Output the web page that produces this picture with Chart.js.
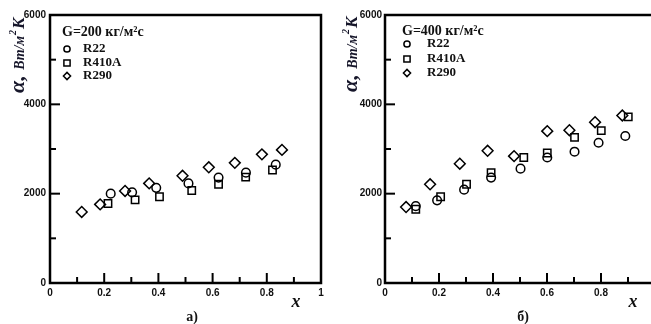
<!DOCTYPE html>
<html>
<head>
<meta charset="utf-8">
<script src="https://cdn.jsdelivr.net/npm/chart.js@4.4.0/dist/chart.umd.min.js"></script>
<style>
  html, body { margin: 0; padding: 0; background: #fff; overflow: hidden; width: 651px; height: 324px; }
  .panel { position: absolute; top: 0; height: 324px; }
  #left { left: 0; width: 330px; }
  #right { left: 330px; width: 335px; }
</style>
</head>
<body>
<div class="panel" id="left"><canvas id="chartA"></canvas></div>
<div class="panel" id="right"><canvas id="chartB"></canvas></div>
<script>
// series names
var seriesNames = ['R22', 'R410A', 'R290'];
var pointStyles = ['circle', 'rect', 'rectRot'];

// panel a) G=200
var a_r22_x   = [0.224, 0.303, 0.392, 0.511, 0.622, 0.723, 0.833];
var a_r22_y   = [2000, 2030, 2130, 2230, 2360, 2470, 2650];
var a_r410_x  = [0.214, 0.314, 0.404, 0.523, 0.622, 0.722, 0.821];
var a_r410_y  = [1780, 1860, 1930, 2070, 2210, 2370, 2530];
var a_r290_x  = [0.117, 0.185, 0.277, 0.366, 0.489, 0.586, 0.682, 0.782, 0.856];
var a_r290_y  = [1590, 1760, 2060, 2230, 2400, 2590, 2690, 2880, 2980];

// panel б) G=400
var b_r22_x   = [0.114, 0.193, 0.293, 0.393, 0.502, 0.601, 0.702, 0.791, 0.890];
var b_r22_y   = [1720, 1850, 2090, 2360, 2560, 2810, 2940, 3140, 3290];
var b_r410_x  = [0.114, 0.206, 0.302, 0.393, 0.514, 0.601, 0.702, 0.801, 0.901];
var b_r410_y  = [1650, 1930, 2210, 2470, 2810, 2910, 3260, 3410, 3720];
var b_r290_x  = [0.078, 0.167, 0.277, 0.380, 0.478, 0.601, 0.683, 0.778, 0.879];
var b_r290_y  = [1700, 2210, 2670, 2960, 2840, 3400, 3420, 3600, 3750];

// axis tick marks (inside the frame)
var xMarks = [0.1, 0.2, 0.3, 0.4, 0.5, 0.6, 0.7, 0.8, 0.9];
var yMarks = [1000, 2000, 3000, 4000, 5000];

function pts(xs, ys) {
    return xs.map(function(x, i) { return { x: x, y: ys[i] }; });
}

function marker(ctx, style, x, y, r) {
    ctx.beginPath();
    if (style === 'circle') {
        ctx.arc(x, y, r, 0, Math.PI * 2);
    } else if (style === 'rect') {
        ctx.rect(x - r, y - r, 2 * r, 2 * r);
    } else {
        var d = r * 1.15;
        ctx.moveTo(x - d, y); ctx.lineTo(x, y - d); ctx.lineTo(x + d, y); ctx.lineTo(x, y + d);
        ctx.closePath();
    }
    ctx.stroke();
}

//frame, ticks, legend and labels
var panelDecor = {
    id: 'panelDecor',
    afterDraw: function(chart, args, o) {
        var ctx = chart.ctx, area = chart.chartArea;
        var xs = chart.scales.x, ys = chart.scales.y;
        ctx.save();
        ctx.strokeStyle = '#000';
        ctx.lineWidth = 2;
        xMarks.forEach(function(v, i) {
            var px = xs.getPixelForValue(v), len = (i % 2) ? 10 : 6;
            ctx.beginPath(); ctx.moveTo(px, area.bottom); ctx.lineTo(px, area.bottom - len); ctx.stroke();
        });
        yMarks.forEach(function(v, i) {
            var py = ys.getPixelForValue(v), len = (i % 2) ? 10 : 6;
            ctx.beginPath(); ctx.moveTo(area.left, py); ctx.lineTo(area.left + len, py); ctx.stroke();
        });
        ctx.lineWidth = 2.5;
        ctx.strokeRect(area.left, area.top, area.right - area.left, area.bottom - area.top);

        // legend
        ctx.fillStyle = '#111';
        ctx.textAlign = 'left';
        ctx.textBaseline = 'middle';
        ctx.font = 'bold 14px "Liberation Serif"';
        ctx.fillText(o.title, o.titleX, o.titleY);
        ctx.font = 'bold 13px "Liberation Serif"';
        ctx.lineWidth = 1.5;
        chart.data.datasets.forEach(function(ds, i) {
            marker(ctx, ds.pointStyle, o.markX, o.itemY[i], 3.1);
            ctx.fillText(ds.label, o.textX, o.itemY[i]);
        });

        // y axis title
        ctx.save();
        ctx.translate(o.yTitleX, o.yTitleY);
        ctx.rotate(-Math.PI / 2);
        ctx.textBaseline = 'alphabetic';
        ctx.fillStyle = '#16162a';
        var cx = 0;
        ctx.font = 'italic bold 22px "Liberation Serif"';
        ctx.fillText('α,', cx, 0); cx += ctx.measureText('α, ').width;
        ctx.font = 'italic bold 14px "Liberation Serif"';
        ctx.fillText('Вт/м', cx, 0); cx += ctx.measureText('Вт/м').width + 1;
        ctx.font = 'italic bold 10px "Liberation Serif"';
        ctx.fillText('2', cx, -8); cx += ctx.measureText('2').width + 1;
        ctx.font = 'italic bold 17px "Liberation Serif"';
        ctx.fillText('К', cx, 0);
        ctx.restore();

        // x label and caption
        ctx.textAlign = 'center';
        ctx.font = 'italic bold 18px "Liberation Serif"';
        ctx.fillText('x', o.xLabelX, o.xLabelY);
        ctx.font = 'bold 14px "Liberation Serif"';
        ctx.fillText(o.caption, o.captionX, o.captionY);
        ctx.restore();
    }
};

function makeChart(id, sets, decor, yWidth, yPad, padRight) {
    var datasets = sets.map(function(s, i) {
        return {
            label: seriesNames[i],
            data: s,
            pointStyle: pointStyles[i],
            pointRadius: [4.3, 5.2, 5.4][i],
            pointBorderWidth: 1.5,
            pointBorderColor: '#000',
            pointBackgroundColor: 'rgba(0,0,0,0)',
            showLine: false
        };
    });
    var tickFont = { family: '"Liberation Sans"', size: 10, weight: 'bold' };
    return new Chart(document.getElementById(id), {
        type: 'scatter',
        data: { datasets: datasets },
        options: {
            responsive: true,
            maintainAspectRatio: false,
            animation: false,
            layout: { padding: { top: 15, right: padRight, left: 0, bottom: 0 } },
            plugins: { legend: { display: false }, tooltip: { enabled: false }, panelDecor: decor },
            scales: {
                x: {
                    type: 'linear', min: 0, max: 1,
                    grid: { display: false, drawTicks: false },
                    border: { display: false },
                    ticks: { stepSize: 0.2, padding: 4, font: tickFont, color: '#111', maxRotation: 0,
                        callback: function(v) { return String(Math.round(v * 10) / 10); } },
                    afterFit: function(s) { s.height = 41; }
                },
                y: {
                    min: 0, max: 6000,
                    grid: { display: false, drawTicks: false },
                    border: { display: false },
                    ticks: { stepSize: 2000, padding: yPad, font: tickFont, color: '#111',
                        callback: function(v) { return String(v); } },
                    afterFit: function(s) { s.width = yWidth; }
                }
            }
        },
        plugins: [panelDecor]
    });
}

makeChart('chartA',
    [pts(a_r22_x, a_r22_y), pts(a_r410_x, a_r410_y), pts(a_r290_x, a_r290_y)],
    { title: 'G=200 кг/м²с', titleX: 62, titleY: 32, markX: 67, textX: 83, itemY: [49, 63, 76],
      yTitleX: 24, yTitleY: 93, xLabelX: 296, xLabelY: 302, caption: 'а)', captionX: 192, captionY: 317 },
    50, 4, 9);

makeChart('chartB',
    [pts(b_r22_x, b_r22_y), pts(b_r410_x, b_r410_y), pts(b_r290_x, b_r290_y)],
    { title: 'G=400 кг/м²с', titleX: 72, titleY: 31, markX: 77, textX: 97, itemY: [44, 59, 73],
      yTitleX: 27, yTitleY: 92, xLabelX: 303, xLabelY: 302, caption: 'б)', captionX: 193, captionY: 317 },
    55, 3, 10);
</script>
</body>
</html>
